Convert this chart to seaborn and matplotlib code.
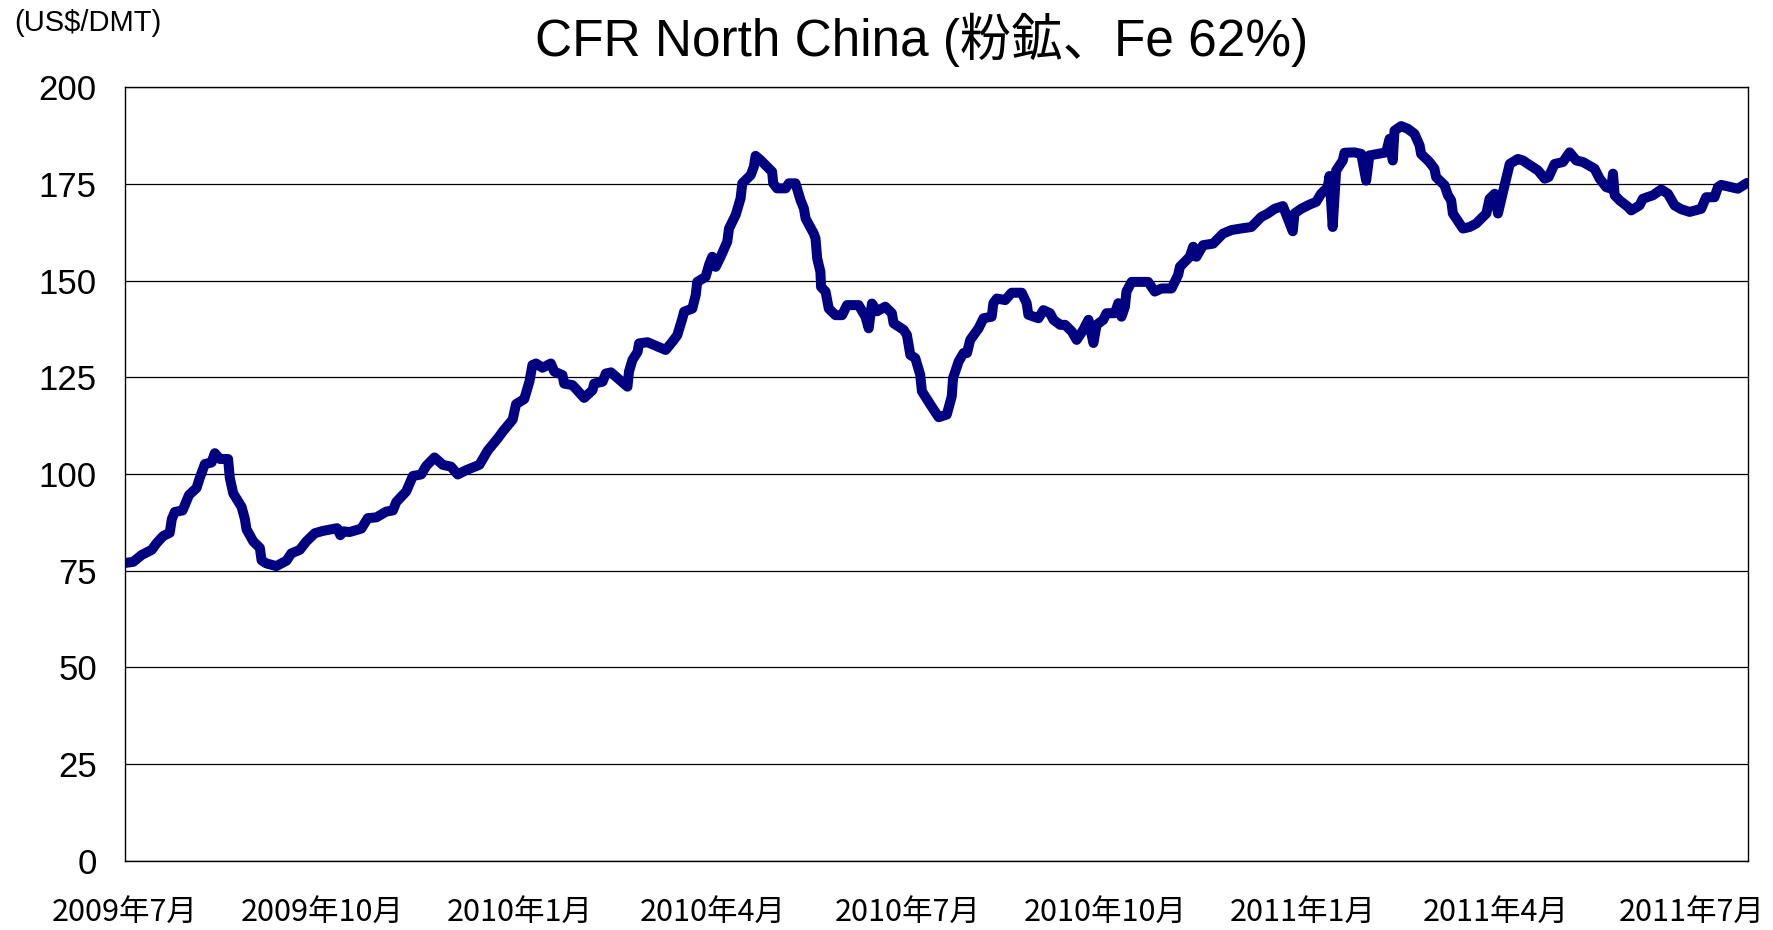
import pandas as pd
import matplotlib.pyplot as plt
import seaborn as sns

sns.set_style('white')
plt.rcParams['font.family'] = ['Liberation Sans', 'Noto Sans CJK JP']
plt.rcParams['text.color'] = 'black'
plt.rcParams['xtick.color'] = 'black'
plt.rcParams['ytick.color'] = 'black'

# days since 2009-07-01
days = [0, 4, 8, 12.6, 15, 18, 21, 22, 23.4, 27, 30, 33.5, 35, 37.4, 40.5, 42, 44.4, 48.2,
        49, 50.6, 54.5, 56, 56.8, 59.9, 63, 63.8, 66, 70.7, 75.4, 77.7, 81.6, 84.7, 88.6, 92.4,
        99, 100.5, 102, 104.8, 110.3, 113.3, 117.3, 121.9, 125, 126.6, 131.2, 134.3, 138.2,
        140.5, 144.4, 148.2, 152.1, 155.2, 159.1, 165.3, 169.2, 173.8, 176.2, 180.8, 182.4,
        186.2, 188.6, 190, 191.7, 194.7, 198.6, 200.2, 204, 204.8, 208.7, 214.1, 218, 218.8,
        222.7, 224.2, 226.6, 234.3, 235, 236.6, 239, 239.7, 243.6, 252.1, 255.2, 257.5, 259.9,
        260.7, 264.5, 266.1, 266.8, 270.7, 272.3, 273.8, 275.4, 277.7, 280.8, 281.6, 284.7,
        287, 287.8, 291.7, 293.2, 294, 296.3, 299.4, 301.7, 302.2, 304, 308, 309.5, 312.6,
        314.9, 316.5, 317.3, 321.1, 321.9, 322.7, 324.2, 324.5, 326.6, 328.1, 331.2, 334.3,
        336.6, 342, 345.2, 346.7, 348.2, 350.6, 354.4, 357.5, 358.3, 363, 364.5, 366.1, 368.4,
        370.7, 371.5, 375.4, 379.3, 383.1, 385.4, 386, 388.6, 390.9, 392.5, 394, 397.9, 400.2,
        404, 404.8, 406.4, 410.3, 413.3, 418, 420.3, 421.1, 425.8, 428.1, 431.2, 432.8, 435.9,
        438.2, 441.3, 443.6, 446.7, 449.1, 451.4, 452.9, 456, 457.5, 461.4, 463, 464.5, 466.1,
        466.8, 469.2, 476.9, 480, 483.1, 487.8, 490.9, 491.7, 496.3, 497.9, 499.4, 502.5,
        507.2, 511.8, 515.7, 520, 525, 529.6, 532.7, 535.8, 539.7, 544.3, 545.1, 548.2, 552.1,
        555.2, 557.5, 560.6, 561.4, 562.9, 564.5, 567.6, 568.4, 573, 576.2, 578.5, 580, 587.8,
        589.4, 590.9, 591.7, 594.8, 597.9, 601, 603.4, 604.1, 608, 610.3, 611.1, 615, 616.6,
        618.1, 618.9, 623.6, 626.7, 629.8, 632.1, 634.5, 636, 638.4, 639.9, 643, 645.4, 649.2,
        651.6, 653.9, 656.2, 658.6, 661.7, 663.5, 666.3, 670.2, 673.3, 676.4, 679.5, 684.9,
        687.3, 690.4, 692.7, 693.5, 694.3, 696.6, 700.5, 702, 705.9, 707.4, 712.1, 716, 719.1,
        722.2, 725.3, 729.2, 734.6, 736.9, 740.8, 742.4, 743.9, 751.7, 756]

price = [77.0, 77.3, 79.1, 80.4, 82.2, 84, 84.8, 88.4, 90.2, 90.6, 94.6, 96.4, 99, 102.6, 103,
         105.4, 103.9, 103.9, 99, 95, 91.5, 88.4, 85.7, 82.6, 80.9, 77.7, 76.9, 76.2, 77.6, 79.5,
         80.4, 82.6, 84.7, 85.3, 86.0, 84.2, 85.2, 85.0, 85.9, 88.6, 88.8, 90.3, 90.6, 92.8, 95.5,
         99.5, 99.9, 102.1, 104.3, 102.4, 101.9, 99.9, 101, 102.4, 106.1, 109.2, 111, 114.1,
         118.1, 119.4, 123.9, 128.2, 128.6, 127.5, 128.6, 126.5, 125.6, 123.4, 123.0, 119.7,
         121.7, 123.4, 123.9, 126, 126.3, 122.6, 126.5, 129.5, 131.6, 133.8, 134.1, 132.1, 134.2,
         135.9, 140.3, 142, 142.8, 146.3, 149.7, 151, 154.1, 156.2, 153.6, 156.2, 160.1, 163.5,
         167, 171.3, 175.2, 177.3, 179.5, 182.3, 181.2, 179.5, 178.2, 175.2, 173.9, 173.9, 175.2,
         175.2, 170.9, 168.7, 166.1, 162.2, 161, 155.8, 152.3, 148.4, 147.2, 142.8, 141.1, 141.1,
         143.7, 143.7, 140.7, 137.7, 144.1, 142.1, 143.3, 141.6, 139, 137.3, 136, 130.8, 130,
         125.7, 121.4, 118, 114.7, 115.4, 120.1, 124.8, 129.1, 131.3, 131.3, 134.7, 137.7, 140.3,
         140.7, 144.2, 145.4, 145, 146.9, 146.9, 144.2, 141.2, 140.3, 142.4, 141.6, 139.9, 138.6,
         138.6, 136.9, 134.7, 137.3, 139.9, 133.9, 138.6, 139.9, 141.6, 141.6, 144.2, 140.7,
         143.3, 147.2, 149.7, 149.7, 147.2, 148, 148, 151.5, 153.6, 156.2, 158.8, 156.2, 159.2,
         159.6, 162.2, 163.1, 163.5, 163.9, 166.5, 167.4, 168.6, 169.3, 162.8, 167.4, 168.6,
         169.7, 170.4, 172.5, 174.2, 177.1, 163.9, 178.5, 181.1, 183.1, 183.2, 182.8, 175.9,
         182.4, 183.2, 186.7, 181.1, 188.8, 190, 189.3, 188, 185, 182.8, 180.7, 179, 176.8,
         174.7, 172.1, 170.8, 167.4, 163.5, 163.9, 164.8, 166.1, 167.4, 171.2, 172.5, 167.4,
         174.7, 180.2, 181.5, 181.1, 180.2, 179.4, 178.5, 176.4, 176.8, 180.2, 180.7, 183.2,
         181.1, 180.7, 179, 176.4, 174.2, 173.8, 177.7, 172.1, 170.8, 169.1, 168.2, 169.5,
         171.2, 172.1, 173.6, 172.5, 169.5, 168.5, 167.8, 168.6, 171.6, 171.6, 174.2, 174.8,
         173.8, 175.3]

tick_dates = ['2009-07-01', '2009-10-01', '2010-01-01', '2010-04-01', '2010-07-01',
              '2010-10-01', '2011-01-01', '2011-04-01', '2011-07-01']
tick_labels = ['2009年7月', '2009年10月', '2010年1月', '2010年4月', '2010年7月',
               '2010年10月', '2011年1月', '2011年4月', '2011年7月']
y_ticks = [0, 25, 50, 75, 100, 125, 150, 175, 200]

start = pd.Timestamp('2009-07-01')
df = pd.DataFrame({'date': start + pd.to_timedelta(days, unit='D'), 'price': price})

fig = plt.figure(figsize=(17.73, 9.30), dpi=100)
ax = fig.add_axes([0.0703, 0.0745, 0.9157, 0.8315])

sns.lineplot(data=df, x='date', y='price', ax=ax, color='#000080', lw=7.2,
             sort=False, estimator=None, solid_capstyle='round', solid_joinstyle='round')

ax.set_xlim(start, start + pd.Timedelta(days=756.5))
ax.set_ylim(0, 200)
ax.set_yticks(y_ticks)
ax.set_yticklabels([str(v) for v in y_ticks], fontsize=25)
ax.set_xticks(pd.to_datetime(tick_dates))
ax.set_xticklabels(tick_labels, fontsize=22, family=['Noto Sans CJK JP'])
ax.tick_params(axis='x', direction='in', length=12, width=1, color='black', pad=26)
ax.tick_params(axis='y', length=0, pad=20)
ax.yaxis.grid(True, color='black', lw=0.9)
ax.set_axisbelow(True)
for s in ax.spines.values():
    s.set_color('black')
    s.set_linewidth(1.0)
ax.set_xlabel('')
ax.set_ylabel('')

fig.text(0.52, 0.957, 'CFR North China (粉鉱、Fe 62%)', ha='center', va='center', fontsize=37)
fig.text(0.008, 0.975, '(US$/DMT)', ha='left', va='center', fontsize=21)

fig.savefig('out.png', dpi=100)
